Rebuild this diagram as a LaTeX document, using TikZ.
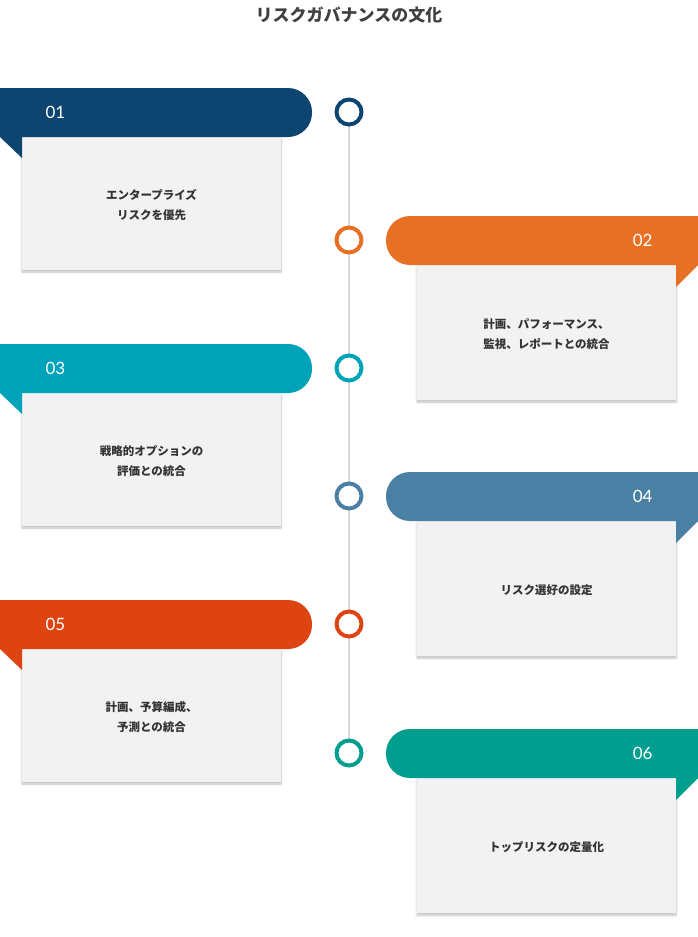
\documentclass[tikz,border=0pt]{standalone}
\usepackage{fontspec}
\setmainfont{Noto Sans CJK JP}
\newfontfamily\numfont{Lato}
\usetikzlibrary{shadows.blur}
\definecolor{cA}{HTML}{0B4570}
\definecolor{cB}{HTML}{E87025}
\definecolor{cC}{HTML}{00A3B8}
\definecolor{cD}{HTML}{4A80A3}
\definecolor{cE}{HTML}{DD4411}
\definecolor{cF}{HTML}{009E8E}
\definecolor{boxgray}{HTML}{F2F2F2}
\definecolor{linegray}{HTML}{D9D9D9}
\tikzset{
  card/.style={fill=boxgray,blur shadow={shadow blur steps=6,shadow xshift=0pt,shadow yshift=-2pt,shadow opacity=25}},
  cardtext/.style={font=\bfseries\fontsize{11.5}{20}\selectfont,align=center,text=black!80},
  num/.style={font=\numfont\fontsize{17}{17}\selectfont,text=white},
  ring/.style={draw,line width=4pt,fill=white,circle,minimum size=25pt,inner sep=0pt}
}
\begin{document}
\begin{tikzpicture}[x=1pt,y=-1pt]
\useasboundingbox (0,0) rectangle (698,937);
\node[font=\bfseries\fontsize{17}{17}\selectfont,text=black!75] (title) at (349,15) {リスクガバナンスの文化};
% timeline
\coordinate (t1) at (349,112);
\coordinate (t6) at (349,752);
\draw[linegray,line width=2.5pt] (t1) -- (t6);
% left items
\foreach \yy/\col/\n/\txt in {88/cA/01/{エンタープライズ\\リスクを優先},344/cC/03/{戦略的オプションの\\評価との統合},600/cE/05/{計画、予算編成、\\予測との統合}}{
  \fill[card] (22,\yy+49) rectangle (281,\yy+182);
  \fill[\col] (0,\yy) {[rounded corners=24pt] -- (312,\yy) -- (312,\yy+49)} -- (0,\yy+49) -- cycle;
  \fill[\col] (0,\yy+49) -- (22,\yy+49) -- (22,\yy+70) -- cycle;
  \node[num,anchor=west] (n\n) at (42,\yy+24.5) {\n};
  \node[cardtext] (b\n) at (151.5,\yy+117) {\txt};
  \node[ring,draw=\col] (c\n) at (349,\yy+24) {};
}
% right items
\foreach \yy/\col/\n/\txt in {216/cB/02/{計画、パフォーマンス、\\監視、レポートとの統合},472/cD/04/{リスク選好の設定},729/cF/06/{トップリスクの定量化}}{
  \fill[card] (417,\yy+49) rectangle (676,\yy+184);
  \fill[\col] (698,\yy) {[rounded corners=24pt] -- (386,\yy) -- (386,\yy+49)} -- (698,\yy+49) -- cycle;
  \fill[\col] (676,\yy+49) -- (698,\yy+49) -- (676,\yy+71) -- cycle;
  \node[num,anchor=east] (n\n) at (656,\yy+24.5) {\n};
  \node[cardtext] (b\n) at (546.5,\yy+118) {\txt};
  \node[ring,draw=\col] (c\n) at (349,\yy+24) {};
}
\end{tikzpicture}
\end{document}
